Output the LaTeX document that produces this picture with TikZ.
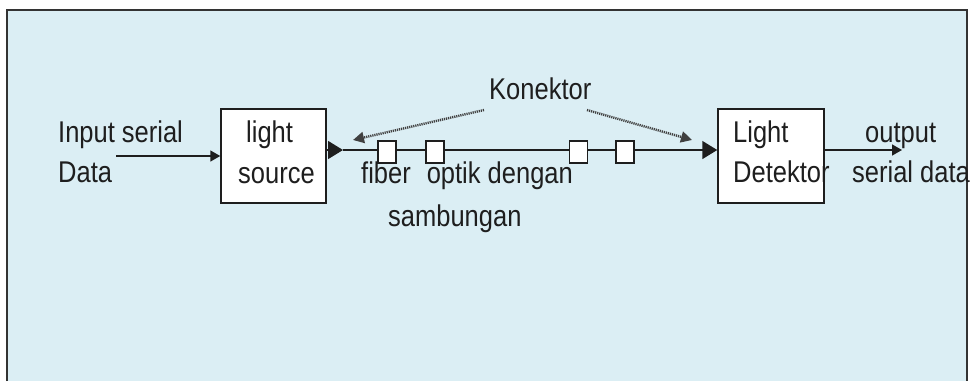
\documentclass[tikz,border=0pt]{standalone}
\usepackage{fontspec}
\setmainfont{Liberation Sans}[FakeStretch=0.85]
\usetikzlibrary{arrows.meta}
\definecolor{bgblue}{HTML}{DBEEF4}
\definecolor{ink}{HTML}{1E1E1E}
\tikzset{
  lbl/.style={anchor=base west, inner sep=0pt, text=ink, font=\fontsize{30}{34}\selectfont},
  blockbox/.style={draw=ink, line width=1.5pt, fill=white, minimum width=105pt, minimum height=94pt, inner sep=0pt},
  conbox/.style={draw=ink, line width=1.3pt, fill=white, minimum width=18pt, minimum height=22pt, inner sep=0pt},
  bigarr/.style={draw=ink, line width=1.6pt, -{Triangle[length=15pt, width=18pt]}},
  smallarr/.style={draw=ink, line width=1.6pt, -{Triangle[length=10pt, width=11pt]}},
  dotarr/.style={draw=black!75, line width=2.4pt, dash pattern=on 1.2pt off 0.9pt, -{Triangle[length=11pt, width=11pt]}}
}
\begin{document}
\begin{tikzpicture}[x=1pt, y=-1pt]
\useasboundingbox (0,0) rectangle (974,381);
% background frame
\fill[bgblue] (7,10) rectangle (967,381);
\draw[black!80, line width=2pt] (7,381) -- (7,10) -- (967,10) -- (967,381);

% blocks
\node[blockbox] (ls) at (273.5,156) {};
\node[blockbox, minimum width=106pt] (det) at (771,156) {};

% labels
\node[lbl] (t1) at (58,142) {Input serial};
\node[lbl] (t2) at (58,182) {Data};
\node[lbl] (t3) at (246,142) {light};
\node[lbl] (t4) at (238,183) {source};
\node[lbl] (t5) at (733,142) {Light};
\node[lbl] (t6) at (733,182) {Detektor};
\node[lbl] (t7) at (865,142) {output};
\node[lbl] (t8) at (852,182) {serial data};
\node[lbl] (t9) at (489,99) {Konektor};
\node[lbl] (t10) at (361,183) {fiber\hspace{16pt}optik dengan};
\node[lbl] (t11) at (388,226) {sambungan};

% coordinates
\coordinate (in) at (116,156);
\coordinate (fy) at (0,150);
\coordinate (mid) at (343,150);
\coordinate (out) at (902,150);
\coordinate (kl) at (484,110);
\coordinate (kr) at (587,110);
\coordinate (kle) at (353,140);
\coordinate (kre) at (692,140);

% connectors
\draw[smallarr] (in) -- (ls.west);
\draw[bigarr] (ls.east |- fy) -- (mid);
\draw[bigarr] (mid) -- (det.west |- fy);
\draw[smallarr] (det.east |- fy) -- (out);

% fibre connectors
\node[conbox] (c1) at (387,152) {};
\node[conbox] (c2) at (435,152) {};
\node[conbox] (c3) at (578.5,152) {};
\node[conbox] (c4) at (625,152) {};

% dotted pointers
\draw[dotarr] (kl) -- (kle);
\draw[dotarr] (kr) -- (kre);
\end{tikzpicture}
\end{document}
